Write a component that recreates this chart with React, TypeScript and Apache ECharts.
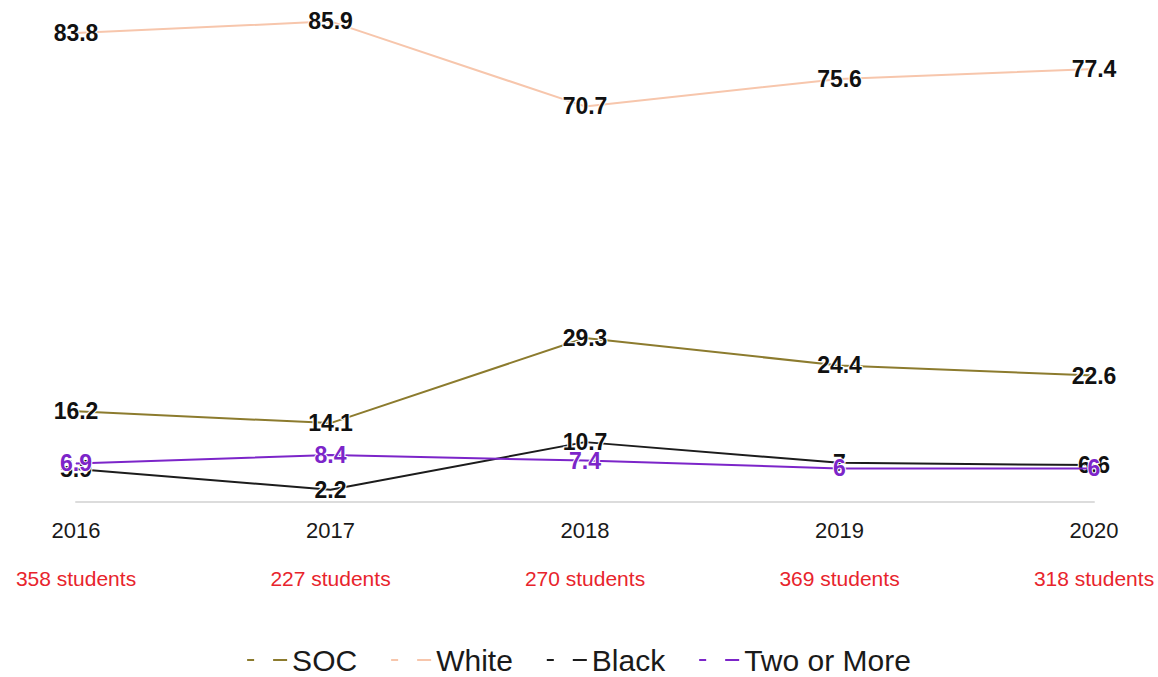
import React, { useEffect, useRef } from "react";
import * as echarts from "echarts";

const years = ["2016", "2017", "2018", "2019", "2020"];
const studentCounts = ["358 students", "227 students", "270 students", "369 students", "318 students"];
const socValues = [16.2, 14.1, 29.3, 24.4, 22.6];
const whiteValues = [83.8, 85.9, 70.7, 75.6, 77.4];
const blackValues = [5.9, 2.2, 10.7, 7, 6.6];
const twoOrMoreValues = [6.9, 8.4, 7.4, 6, 6];

const seriesNames = ["SOC", "White", "Black", "Two or More"];
const seriesColors = ["#8c7b2e", "#f7c6ac", "#1c1c1c", "#7c25c9"];
const labelColors = ["#111111", "#111111", "#111111", "#7c25c9"];

export default function App() {
  const ref = useRef<HTMLDivElement>(null);
  useEffect(() => {
    if (!ref.current) return;
    const chart = echarts.init(ref.current, undefined, { renderer: "svg" });
    const data = [socValues, whiteValues, blackValues, twoOrMoreValues];
    chart.setOption({
      animation: false,
      backgroundColor: "#ffffff",
      grid: { left: 76, right: 64, top: 4, bottom: 175 },
      legend: {
        top: 643,
        left: "center",
        padding: 0,
        itemWidth: 40,
        itemHeight: 3,
        itemGap: 34,
        icon: "path://M0,0h7v2h-7z M26,0h14v2h-14z",
        textStyle: { fontSize: 30, lineHeight: 34, color: "#1a1a1a", fontFamily: "Liberation Sans, Arial, sans-serif" },
        data: seriesNames,
      },
      xAxis: {
        type: "category",
        data: years,
        boundaryGap: false,
        axisLine: { show: true, lineStyle: { color: "#dcdcdc", width: 2 } },
        axisTick: { show: false },
        axisLabel: {
          margin: 4,
          formatter: (v: string, i: number) => `{y|${v}}\n{s|${studentCounts[i]}}`,
          rich: {
            y: { fontSize: 22, color: "#1a1a1a", lineHeight: 48, fontFamily: "Liberation Sans, Arial, sans-serif" },
            s: { fontSize: 21, color: "#e8242c", lineHeight: 48, fontFamily: "Liberation Sans, Arial, sans-serif" },
          },
        },
      },
      yAxis: {
        type: "value",
        min: 0,
        max: 89,
        show: false,
        splitLine: { show: false },
      },
      series: seriesNames.map((name, k) => ({
        name,
        type: "line",
        data: data[k],
        symbol: "circle",
        symbolSize: 1,
        showSymbol: true,
        color: seriesColors[k],
        lineStyle: { width: 2, color: seriesColors[k] },
        itemStyle: { color: seriesColors[k] },
        label: {
          show: true,
          position: "inside",
          fontSize: 23,
          fontWeight: "bold",
          color: labelColors[k],
          fontFamily: "Liberation Sans, Arial, sans-serif",
          textBorderColor: "#ffffff",
          textBorderWidth: 2,
        },
        z: 2 + k,
      })),
    });
    return () => chart.dispose();
  }, []);
  return (
    <div
      ref={ref}
      style={{ position: "fixed", left: 0, top: 0, width: 1158, height: 677, background: "#fff" }}
    />
  );
}
